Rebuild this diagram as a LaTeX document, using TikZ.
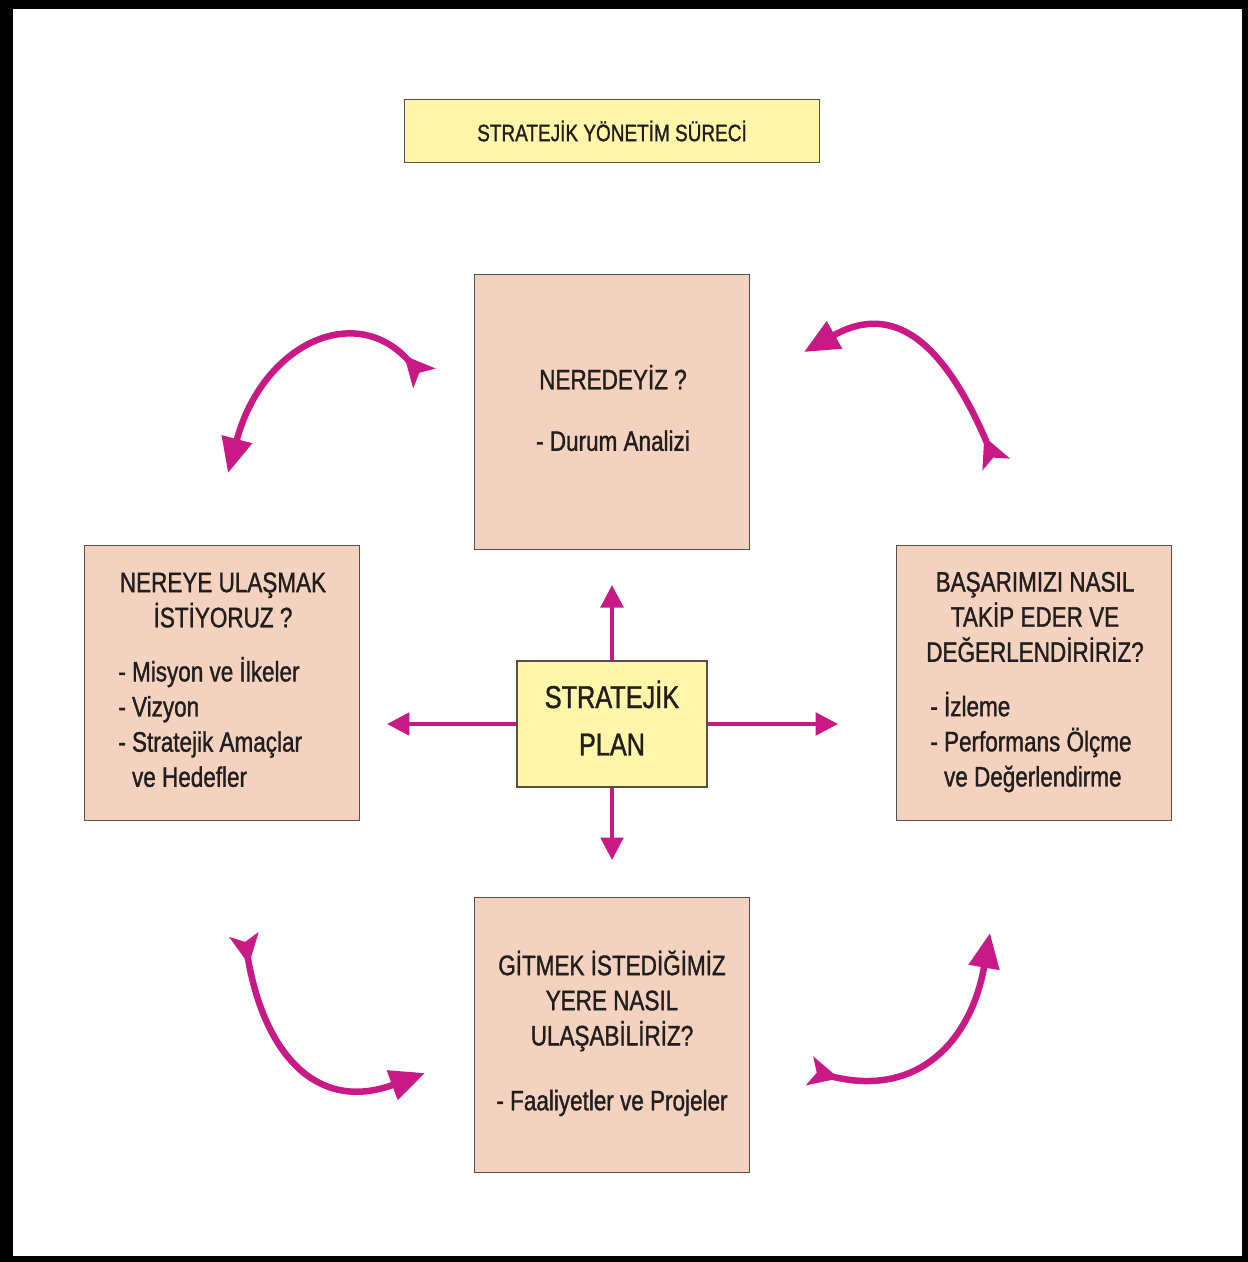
\documentclass[tikz,border=0pt]{standalone}
\usepackage{fontspec}
\setmainfont{Liberation Sans}[FakeStretch=0.8, FakeBold=1.2]
\usetikzlibrary{arrows.meta}
\definecolor{pembe}{RGB}{200,25,135}
\definecolor{seftali}{RGB}{243,210,192}
\definecolor{sari}{RGB}{255,246,170}
\definecolor{yazi}{RGB}{35,30,30}
\definecolor{kenar}{RGB}{85,80,75}

\begin{document}
\begin{tikzpicture}[x=0.02cm, y=-0.02cm,
    kutu/.style={draw=kenar, line width=0.8pt, fill=seftali, minimum width=5.5cm, minimum height=5.5cm, inner sep=0pt},
    sarikutu/.style={draw=kenar, line width=0.8pt, fill=sari, text=yazi, inner sep=0pt},
    baslik/.style={text=yazi, font=\fontsize{16}{20}\selectfont, align=center, inner sep=0pt},
    liste/.style={text=yazi, font=\fontsize{16}{20}\selectfont, align=left, inner sep=0pt, anchor=west},
    ok/.style={pembe, line width=0.08cm, -{Triangle[length=0.45cm, width=0.45cm]}},
    donus/.style={pembe, line width=0.13cm, {Stealth[reversed, length=0.6cm, width=0.58cm, inset=0.14cm]}-{Triangle[length=0.7cm, width=0.6cm]}}]

    % Frame
    \useasboundingbox (0,0) rectangle (1248,1262);
    \fill[black] (0,0) rectangle (1248,1262);
    \fill[white] (13,9) rectangle (1242,1256);

    % Title
    \node[sarikutu, minimum width=8.3cm, minimum height=1.26cm, font=\fontsize{13.5}{16}\selectfont] (surec) at (612,131) {STRATEJİK YÖNETİM SÜRECİ};

    % Four boxes
    \node[kutu] (ust) at (612,412) {};
    \node[kutu] (sol) at (222,683) {};
    \node[kutu] (sag) at (1034,683) {};
    \node[kutu] (alt) at (612,1035) {};

    % Box texts
    \node[baslik] (ustyazi) at (613,408) {NEREDEYİZ ?\\[15pt]- Durum Analizi};
    \node[baslik] (solbas) at (223,600) {NEREYE ULAŞMAK\\İSTİYORUZ ?};
    \node[liste] (solliste) at (118,722) {- Misyon ve İlkeler\\- Vizyon\\- Stratejik Amaçlar\\\hphantom{-~}ve Hedefler};
    \node[baslik] (sagbas) at (1035,617) {BAŞARIMIZI NASIL\\TAKİP EDER VE\\DEĞERLENDİRİRİZ?};
    \node[liste] (sagliste) at (930,742) {- İzleme\\- Performans Ölçme\\\hphantom{-~}ve Değerlendirme};
    \node[baslik] (altbas) at (612,1001) {GİTMEK İSTEDİĞİMİZ\\YERE NASIL\\ULAŞABİLİRİZ?};
    \node[baslik] (altliste) at (612,1103) {- Faaliyetler ve Projeler};

    % Center
    \node[sarikutu, minimum width=3.8cm, minimum height=2.52cm] (plan) at (612,724) {};
    \node[baslik, font=\fontsize{18}{27}\selectfont] (plantext) at (612,718) {STRATEJİK\\PLAN};

    % Arrows out of the plan
    \coordinate (u) at (612,585);
    \coordinate (l) at (387,724);
    \coordinate (r) at (838,724);
    \coordinate (d) at (612,860);
    \draw[ok] (plan.north) -- (u);
    \draw[ok] (plan.west) -- (l);
    \draw[ok] (plan.east) -- (r);
    \draw[ok] (plan.south) -- (d);

    % Cycle arrows
    \coordinate (a1) at (424,378);
    \coordinate (a2) at (228,473);
    \coordinate (b1) at (244,935);
    \coordinate (b2) at (425,1073);
    \coordinate (c1) at (810,1071);
    \coordinate (c2) at (990,933);
    \coordinate (d1) at (996,464);
    \coordinate (d2) at (804,352);
    \draw[donus] (a1) .. controls (355,300) and (262,345) .. (a2);
    \draw[donus] (b1) .. controls (264,1054) and (317,1113) .. (b2);
    \draw[donus] (c1) .. controls (917,1098) and (971,1042) .. (c2);
    \draw[donus] (d1) .. controls (949,354) and (900,298) .. (d2);
\end{tikzpicture}
\end{document}
